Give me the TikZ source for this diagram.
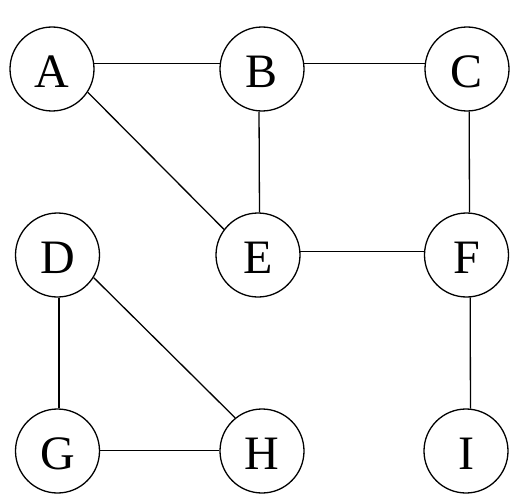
\documentclass[tikz,border=0pt]{standalone}
\usepackage{fontspec}
\setmainfont{Liberation Serif}
\begin{document}
\begin{tikzpicture}[x=1pt,y=-1pt,
  vert/.style={draw,circle,minimum size=84pt,inner sep=0pt,line width=1.3pt,
    text height=37.3pt,text depth=0pt,font=\fontsize{48}{52}\selectfont},
  edge/.style={line width=1.3pt}]
\useasboundingbox (0,0) rectangle (525,503);
\node[vert] (A) at (52,69) {A};
\node[vert] (B) at (262,69) {B};
\node[vert] (C) at (467,69) {C};
\node[vert] (D) at (57.5,255) {D};
\node[vert] (E) at (258,255) {E};
\node[vert] (F) at (466.5,255) {F};
\node[vert] (G) at (57.5,451) {G};
\node[vert] (H) at (262,451) {H};
\node[vert] (I) at (466,451) {I};
\draw[edge] (A.7) -- (B.173);
\draw[edge] (B.7) -- (C.173);
\draw[edge] (A.-33) -- (E.143);
\draw[edge] (B.-94) -- (E.88);
\draw[edge] (C.-87) -- (F.86);
\draw[edge] (E.5) -- (F.175);
\draw[edge] (F.-85) -- (I.84.5);
\draw[edge] (D.-88.4) -- (G.88.4);
\draw[edge] (D.-32) -- (H.129);
\draw[edge] (G.1) -- (H.179);
\end{tikzpicture}
\end{document}
